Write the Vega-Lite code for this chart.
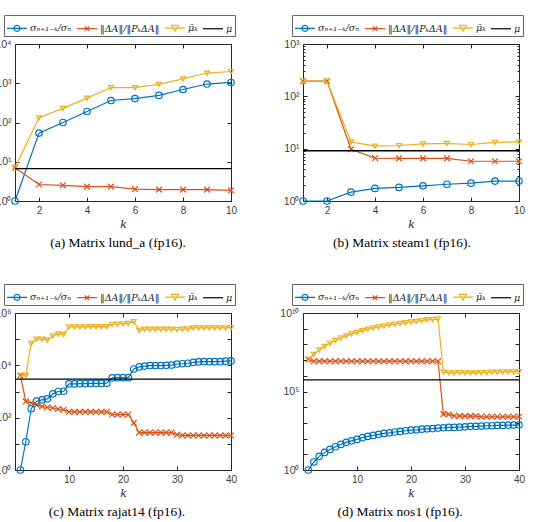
{
  "$schema": "https://vega.github.io/schema/vega-lite/v6.json",
  "autosize": {"type": "pad"},
  "padding": {"left": -6, "top": 14, "right": 0, "bottom": 0},
  "background": "white",
  "bounds": "flush",
  "columns": 2,
  "spacing": {"row": 112, "column": 72},
  "resolve": {"scale": {"color": "independent"}, "legend": {"color": "independent"}},
  "config": {
    "view": {"stroke": "#262626", "strokeWidth": 1},
    "axis": {
      "domain": false, "grid": false, "tickColor": "#262626", "tickSize": -4, "tickWidth": 1,
      "labelFont": "Liberation Sans", "labelFontSize": 10, "labelColor": "#404040", "labelPadding": 8,
      "labelFlush": false, "labelOverlap": false,
      "titleFont": "DejaVu Serif", "titleFontStyle": "italic", "titleFontWeight": "normal",
      "titleFontSize": 11, "titleColor": "#262626", "titlePadding": 3
    },
    "axisLeft": {"labelFontSize": 10.5},
    "legend": {
      "labelFont": "DejaVu Serif", "labelFontStyle": "italic", "labelFontSize": 9.5, "labelColor": "#262626",
      "symbolSize": 400, "symbolStrokeWidth": 1.2, "labelOffset": 2, "columnPadding": 2, "padding": 2,
      "strokeColor": "#666666", "fillColor": "#ffffff", "labelLimit": 200
    },
    "title": {"font": "Liberation Serif", "fontSize": 13.5, "fontWeight": "normal", "color": "#000000", "offset": 7}
  },
  "datasets": {
    "a": [
      {"k":1,"s":"s","v":1},{"k":2,"s":"s","v":53.7},{"k":3,"s":"s","v":100},{"k":4,"s":"s","v":190.5},{"k":5,"s":"s","v":363},
      {"k":6,"s":"s","v":407},{"k":7,"s":"s","v":490},{"k":8,"s":"s","v":692},{"k":9,"s":"s","v":955},{"k":10,"s":"s","v":1047},
      {"k":1,"s":"d","v":7.08},{"k":2,"s":"d","v":2.63},{"k":3,"s":"d","v":2.51},{"k":4,"s":"d","v":2.32},{"k":5,"s":"d","v":2.32},
      {"k":6,"s":"d","v":2.0},{"k":7,"s":"d","v":1.95},{"k":8,"s":"d","v":1.95},{"k":9,"s":"d","v":1.95},{"k":10,"s":"d","v":1.86},
      {"k":1,"s":"m","v":7.08},{"k":2,"s":"m","v":131.8},{"k":3,"s":"m","v":229},{"k":4,"s":"m","v":417},{"k":5,"s":"m","v":776},
      {"k":6,"s":"m","v":776},{"k":7,"s":"m","v":933},{"k":8,"s":"m","v":1288},{"k":9,"s":"m","v":1820},{"k":10,"s":"m","v":1995},
      {"s":"mu","v":6.67}
    ],
    "b": [
      {"k":1,"s":"s","v":1},{"k":2,"s":"s","v":1},{"k":3,"s":"s","v":1.48},{"k":4,"s":"s","v":1.74},{"k":5,"s":"s","v":1.82},
      {"k":6,"s":"s","v":1.95},{"k":7,"s":"s","v":2.09},{"k":8,"s":"s","v":2.19},{"k":9,"s":"s","v":2.4},{"k":10,"s":"s","v":2.4},
      {"k":1,"s":"d","v":195},{"k":2,"s":"d","v":195},{"k":3,"s":"d","v":9.77},{"k":4,"s":"d","v":6.61},{"k":5,"s":"d","v":6.53},
      {"k":6,"s":"d","v":6.53},{"k":7,"s":"d","v":6.53},{"k":8,"s":"d","v":5.75},{"k":9,"s":"d","v":5.75},{"k":10,"s":"d","v":5.75},
      {"k":1,"s":"m","v":195},{"k":2,"s":"m","v":195},{"k":3,"s":"m","v":13.5},{"k":4,"s":"m","v":11.2},{"k":5,"s":"m","v":11.5},
      {"k":6,"s":"m","v":12.3},{"k":7,"s":"m","v":12.6},{"k":8,"s":"m","v":12.0},{"k":9,"s":"m","v":13.2},{"k":10,"s":"m","v":13.5},
      {"s":"mu","v":9.12}
    ],
    "c": [
      {"k":1,"s":"s","v":1},{"k":2,"s":"s","v":12.0},{"k":3,"s":"s","v":219},{"k":4,"s":"s","v":427},{"k":5,"s":"s","v":479},
      {"k":6,"s":"s","v":525},{"k":7,"s":"s","v":813},{"k":8,"s":"s","v":1000},{"k":9,"s":"s","v":1023},{"k":10,"s":"s","v":1950},
      {"k":11,"s":"s","v":1950},{"k":12,"s":"s","v":1995},{"k":13,"s":"s","v":1995},{"k":14,"s":"s","v":2042},{"k":15,"s":"s","v":2042},
      {"k":16,"s":"s","v":2042},{"k":17,"s":"s","v":2089},{"k":18,"s":"s","v":3311},{"k":19,"s":"s","v":3388},{"k":20,"s":"s","v":3388},
      {"k":21,"s":"s","v":3388},{"k":22,"s":"s","v":7244},{"k":23,"s":"s","v":8710},{"k":24,"s":"s","v":9333},{"k":25,"s":"s","v":9772},
      {"k":26,"s":"s","v":9772},{"k":27,"s":"s","v":9772},{"k":28,"s":"s","v":10000},{"k":29,"s":"s","v":10233},{"k":30,"s":"s","v":11220},
      {"k":31,"s":"s","v":11482},{"k":32,"s":"s","v":12023},{"k":33,"s":"s","v":12882},{"k":34,"s":"s","v":13490},{"k":35,"s":"s","v":13804},
      {"k":36,"s":"s","v":13804},{"k":37,"s":"s","v":13804},{"k":38,"s":"s","v":13804},{"k":39,"s":"s","v":14454},{"k":40,"s":"s","v":14791},
      {"k":1,"s":"d","v":4169},{"k":2,"s":"d","v":417},{"k":3,"s":"d","v":363},{"k":4,"s":"d","v":309},{"k":5,"s":"d","v":269},
      {"k":6,"s":"d","v":245},{"k":7,"s":"d","v":234},{"k":8,"s":"d","v":214},{"k":9,"s":"d","v":200},{"k":10,"s":"d","v":166},
      {"k":11,"s":"d","v":166},{"k":12,"s":"d","v":166},{"k":13,"s":"d","v":166},{"k":14,"s":"d","v":166},{"k":15,"s":"d","v":166},
      {"k":16,"s":"d","v":166},{"k":17,"s":"d","v":166},{"k":18,"s":"d","v":132},{"k":19,"s":"d","v":132},{"k":20,"s":"d","v":132},
      {"k":21,"s":"d","v":132},{"k":22,"s":"d","v":63.1},{"k":23,"s":"d","v":26.9},{"k":24,"s":"d","v":26.9},{"k":25,"s":"d","v":26.9},
      {"k":26,"s":"d","v":26.9},{"k":27,"s":"d","v":26.9},{"k":28,"s":"d","v":26.9},{"k":29,"s":"d","v":26.9},{"k":30,"s":"d","v":22.4},
      {"k":31,"s":"d","v":20.9},{"k":32,"s":"d","v":20.9},{"k":33,"s":"d","v":20.9},{"k":34,"s":"d","v":20.9},{"k":35,"s":"d","v":20.9},
      {"k":36,"s":"d","v":20.9},{"k":37,"s":"d","v":20.9},{"k":38,"s":"d","v":20.9},{"k":39,"s":"d","v":20.9},{"k":40,"s":"d","v":20.9},
      {"k":1,"s":"m","v":4169},{"k":2,"s":"m","v":4169},{"k":3,"s":"m","v":69183},{"k":4,"s":"m","v":100000},{"k":5,"s":"m","v":100000},
      {"k":6,"s":"m","v":93325},{"k":7,"s":"m","v":134896},{"k":8,"s":"m","v":158489},{"k":9,"s":"m","v":151356},{"k":10,"s":"m","v":295121},
      {"k":11,"s":"m","v":295121},{"k":12,"s":"m","v":295121},{"k":13,"s":"m","v":295121},{"k":14,"s":"m","v":301995},{"k":15,"s":"m","v":301995},
      {"k":16,"s":"m","v":301995},{"k":17,"s":"m","v":301995},{"k":18,"s":"m","v":371535},{"k":19,"s":"m","v":380189},{"k":20,"s":"m","v":389045},
      {"k":21,"s":"m","v":398107},{"k":22,"s":"m","v":467735},{"k":23,"s":"m","v":218776},{"k":24,"s":"m","v":239883},{"k":25,"s":"m","v":239883},
      {"k":26,"s":"m","v":239883},{"k":27,"s":"m","v":239883},{"k":28,"s":"m","v":239883},{"k":29,"s":"m","v":239883},{"k":30,"s":"m","v":234423},
      {"k":31,"s":"m","v":239883},{"k":32,"s":"m","v":245471},{"k":33,"s":"m","v":269153},{"k":34,"s":"m","v":269153},{"k":35,"s":"m","v":269153},
      {"k":36,"s":"m","v":269153},{"k":37,"s":"m","v":269153},{"k":38,"s":"m","v":269153},{"k":39,"s":"m","v":269153},{"k":40,"s":"m","v":275423},
      {"s":"mu","v":2951}
    ],
    "d": [
      {"k":1,"s":"s","v":1},{"k":2,"s":"s","v":3.24},{"k":3,"s":"s","v":7.41},{"k":4,"s":"s","v":13.2},{"k":5,"s":"s","v":20.4},
      {"k":6,"s":"s","v":30.2},{"k":7,"s":"s","v":42.7},{"k":8,"s":"s","v":57.5},{"k":9,"s":"s","v":72.4},{"k":10,"s":"s","v":89.1},
      {"k":11,"s":"s","v":114.8},{"k":12,"s":"s","v":138.0},{"k":13,"s":"s","v":158.5},{"k":14,"s":"s","v":186.2},{"k":15,"s":"s","v":213.8},
      {"k":16,"s":"s","v":234.4},{"k":17,"s":"s","v":263.0},{"k":18,"s":"s","v":288.4},{"k":19,"s":"s","v":316.2},{"k":20,"s":"s","v":346.7},
      {"k":21,"s":"s","v":363.1},{"k":22,"s":"s","v":398.1},{"k":23,"s":"s","v":416.9},{"k":24,"s":"s","v":436.5},{"k":25,"s":"s","v":467.7},
      {"k":26,"s":"s","v":489.8},{"k":27,"s":"s","v":512.9},{"k":28,"s":"s","v":512.9},{"k":29,"s":"s","v":537.0},{"k":30,"s":"s","v":562.3},
      {"k":31,"s":"s","v":602.6},{"k":32,"s":"s","v":602.6},{"k":33,"s":"s","v":631.0},{"k":34,"s":"s","v":660.7},{"k":35,"s":"s","v":660.7},
      {"k":36,"s":"s","v":691.8},{"k":37,"s":"s","v":691.8},{"k":38,"s":"s","v":724.4},{"k":39,"s":"s","v":724.4},{"k":40,"s":"s","v":758.6},
      {"k":1,"s":"d","v":1.122e7},{"k":2,"s":"d","v":8.511e6},{"k":3,"s":"d","v":8.511e6},{"k":4,"s":"d","v":8.511e6},{"k":5,"s":"d","v":8.511e6},
      {"k":6,"s":"d","v":8.511e6},{"k":7,"s":"d","v":8.511e6},{"k":8,"s":"d","v":8.511e6},{"k":9,"s":"d","v":8.511e6},{"k":10,"s":"d","v":8.511e6},
      {"k":11,"s":"d","v":8.511e6},{"k":12,"s":"d","v":8.511e6},{"k":13,"s":"d","v":8.511e6},{"k":14,"s":"d","v":8.511e6},{"k":15,"s":"d","v":8.511e6},
      {"k":16,"s":"d","v":8.511e6},{"k":17,"s":"d","v":8.511e6},{"k":18,"s":"d","v":8.511e6},{"k":19,"s":"d","v":8.511e6},{"k":20,"s":"d","v":8.511e6},
      {"k":21,"s":"d","v":8.511e6},{"k":22,"s":"d","v":8.511e6},{"k":23,"s":"d","v":8.511e6},{"k":24,"s":"d","v":8.511e6},{"k":25,"s":"d","v":8.511e6},
      {"k":26,"s":"d","v":3631},{"k":27,"s":"d","v":3467},{"k":28,"s":"d","v":2818},{"k":29,"s":"d","v":2692},{"k":30,"s":"d","v":2692},
      {"k":31,"s":"d","v":2692},{"k":32,"s":"d","v":2692},{"k":33,"s":"d","v":2455},{"k":34,"s":"d","v":2455},{"k":35,"s":"d","v":2455},
      {"k":36,"s":"d","v":2455},{"k":37,"s":"d","v":2455},{"k":38,"s":"d","v":2455},{"k":39,"s":"d","v":2455},{"k":40,"s":"d","v":2455},
      {"k":1,"s":"m","v":1.122e7},{"k":2,"s":"m","v":2.344e7},{"k":3,"s":"m","v":4.467e7},{"k":4,"s":"m","v":7.586e7},{"k":5,"s":"m","v":1.23e8},
      {"k":6,"s":"m","v":1.82e8},{"k":7,"s":"m","v":2.57e8},{"k":8,"s":"m","v":3.467e8},{"k":9,"s":"m","v":4.677e8},{"k":10,"s":"m","v":5.888e8},
      {"k":11,"s":"m","v":7.586e8},{"k":12,"s":"m","v":9.333e8},{"k":13,"s":"m","v":1.122e9},{"k":14,"s":"m","v":1.288e9},{"k":15,"s":"m","v":1.479e9},
      {"k":16,"s":"m","v":1.738e9},{"k":17,"s":"m","v":1.995e9},{"k":18,"s":"m","v":2.188e9},{"k":19,"s":"m","v":2.455e9},{"k":20,"s":"m","v":2.692e9},
      {"k":21,"s":"m","v":2.951e9},{"k":22,"s":"m","v":3.236e9},{"k":23,"s":"m","v":3.631e9},{"k":24,"s":"m","v":3.802e9},{"k":25,"s":"m","v":4.169e9},
      {"k":26,"s":"m","v":1.698e6},{"k":27,"s":"m","v":1.549e6},{"k":28,"s":"m","v":1.514e6},{"k":29,"s":"m","v":1.622e6},{"k":30,"s":"m","v":1.549e6},
      {"k":31,"s":"m","v":1.549e6},{"k":32,"s":"m","v":1.549e6},{"k":33,"s":"m","v":1.622e6},{"k":34,"s":"m","v":1.622e6},{"k":35,"s":"m","v":1.698e6},
      {"k":36,"s":"m","v":1.698e6},{"k":37,"s":"m","v":1.778e6},{"k":38,"s":"m","v":1.778e6},{"k":39,"s":"m","v":1.778e6},{"k":40,"s":"m","v":1.862e6},
      {"s":"mu","v":5.495e5}
    ]
  },
  "concat": [
    {
      "width": 216, "height": 157,
      "data": {"name": "a"},
      "title": {"text": "(a) Matrix lund_a (fp16).", "orient": "bottom", "dx": -5},
      "layer": [
        {
          "transform": [{"filter": "datum.s !== 'mu'"}],
          "mark": {"type": "line", "strokeWidth": 1.2},
          "encoding": {
            "x": {"field": "k", "type": "quantitative", "scale": {"domain": [1, 10]}, "axis": {"values": [2, 4, 6, 8, 10], "title": "k"}},
            "y": {"field": "v", "type": "quantitative", "scale": {"type": "log", "domain": [1, 10000]},
                  "axis": {"values": [1, 10, 100, 1000, 10000], "title": null, "labelExpr": "'10' + ['⁰','¹','²','³','⁴'][round(log(datum.value) / LN10)]"}},
            "color": {"field": "s", "type": "nominal",
              "scale": {"domain": ["s", "d", "m", "mu"], "range": ["#0072BD", "#D95319", "#EDB120", "#000000"]},
              "legend": {"orient": "none", "legendX": -11, "legendY": -29, "direction": "horizontal", "title": null,
                "labelExpr": "datum.value === 's' ? 'σₙ₊₁₋ₖ/σₙ' : datum.value === 'd' ? '‖ΔA‖/‖PₖΔA‖' : datum.value === 'm' ? 'μ̄ₖ' : 'μ'",
                "encode": {"symbols": {"update": {
                  "shape": {"signal": "datum.value === 's' ? 'M-1,0L1,0M-0.3,0A0.3,0.3,0,1,0,0.3,0A0.3,0.3,0,1,0,-0.3,0' : datum.value === 'd' ? 'M-1,0L1,0M-0.22,-0.22L0.22,0.22M-0.22,0.22L0.22,-0.22' : datum.value === 'm' ? 'M-1,0L1,0M-0.35,-0.28L0.35,-0.28L0,0.32Z' : 'M-1,0L1,0'"},
                  "fill": {"value": "transparent"}, "opacity": {"value": 1}}}}}}
          }
        },
        {
          "transform": [{"filter": "datum.s !== 'mu'"}],
          "mark": {"type": "point", "filled": false, "strokeWidth": 1.2, "opacity": 1},
          "encoding": {
            "x": {"field": "k", "type": "quantitative", "axis": {"orient": "top", "values": [2, 4, 6, 8, 10], "labels": false, "title": null}},
            "y": {"field": "v", "type": "quantitative", "axis": {"orient": "right", "values": [1, 10, 100, 1000, 10000], "labels": false, "title": null}},
            "color": {"field": "s", "type": "nominal"},
            "shape": {"field": "s", "type": "nominal", "scale": {"domain": ["s", "d", "m"], "range": ["circle", "M-1,-1L1,1M-1,1L1,-1", "M-1,-0.8L1,-0.8L0,0.9Z"]}, "legend": null},
            "size": {"field": "s", "type": "ordinal", "scale": {"domain": ["s", "d", "m"], "range": [42, 25, 49]}, "legend": null}
          }
        },
        {
          "transform": [{"filter": "datum.s === 'mu'"}],
          "mark": {"type": "rule", "strokeWidth": 1.3},
          "encoding": {"y": {"field": "v", "type": "quantitative", "axis": null}, "color": {"field": "s", "type": "nominal"}}
        }
      ],
      "resolve": {"axis": {"x": "independent", "y": "independent"}}
    },
    {
      "width": 216, "height": 157,
      "data": {"name": "b"},
      "title": {"text": "(b) Matrix steam1 (fp16).", "orient": "bottom", "dx": -9},
      "layer": [
        {
          "transform": [{"filter": "datum.s !== 'mu'"}],
          "mark": {"type": "line", "strokeWidth": 1.2},
          "encoding": {
            "x": {"field": "k", "type": "quantitative", "scale": {"domain": [1, 10]}, "axis": {"values": [2, 4, 6, 8, 10], "title": "k"}},
            "y": {"field": "v", "type": "quantitative", "scale": {"type": "log", "domain": [1, 1000]},
                  "axis": {"values": [1, 2, 3, 4, 5, 6, 7, 8, 9, 10, 20, 30, 40, 50, 60, 70, 80, 90, 100, 200, 300, 400, 500, 600, 700, 800, 900, 1000], "title": null,
                           "tickSize": {"condition": {"test": "abs(log(datum.value) / LN10 - round(log(datum.value) / LN10)) < 0.001", "value": -4}, "value": -2},
                           "labelExpr": "abs(log(datum.value) / LN10 - round(log(datum.value) / LN10)) < 0.001 ? '10' + ['⁰','¹','²','³'][round(log(datum.value) / LN10)] : ''"}},
            "color": {"field": "s", "type": "nominal",
              "scale": {"domain": ["s", "d", "m", "mu"], "range": ["#0072BD", "#D95319", "#EDB120", "#000000"]},
              "legend": {"orient": "none", "legendX": -11, "legendY": -29, "direction": "horizontal", "title": null,
                "labelExpr": "datum.value === 's' ? 'σₙ₊₁₋ₖ/σₙ' : datum.value === 'd' ? '‖ΔA‖/‖PₖΔA‖' : datum.value === 'm' ? 'μ̄ₖ' : 'μ'",
                "encode": {"symbols": {"update": {
                  "shape": {"signal": "datum.value === 's' ? 'M-1,0L1,0M-0.3,0A0.3,0.3,0,1,0,0.3,0A0.3,0.3,0,1,0,-0.3,0' : datum.value === 'd' ? 'M-1,0L1,0M-0.22,-0.22L0.22,0.22M-0.22,0.22L0.22,-0.22' : datum.value === 'm' ? 'M-1,0L1,0M-0.35,-0.28L0.35,-0.28L0,0.32Z' : 'M-1,0L1,0'"},
                  "fill": {"value": "transparent"}, "opacity": {"value": 1}}}}}}
          }
        },
        {
          "transform": [{"filter": "datum.s !== 'mu'"}],
          "mark": {"type": "point", "filled": false, "strokeWidth": 1.2, "opacity": 1},
          "encoding": {
            "x": {"field": "k", "type": "quantitative", "axis": {"orient": "top", "values": [2, 4, 6, 8, 10], "labels": false, "title": null}},
            "y": {"field": "v", "type": "quantitative",
                  "axis": {"orient": "right", "values": [1, 2, 3, 4, 5, 6, 7, 8, 9, 10, 20, 30, 40, 50, 60, 70, 80, 90, 100, 200, 300, 400, 500, 600, 700, 800, 900, 1000], "labels": false, "title": null,
                           "tickSize": {"condition": {"test": "abs(log(datum.value) / LN10 - round(log(datum.value) / LN10)) < 0.001", "value": -4}, "value": -2}}},
            "color": {"field": "s", "type": "nominal"},
            "shape": {"field": "s", "type": "nominal", "scale": {"domain": ["s", "d", "m"], "range": ["circle", "M-1,-1L1,1M-1,1L1,-1", "M-1,-0.8L1,-0.8L0,0.9Z"]}, "legend": null},
            "size": {"field": "s", "type": "ordinal", "scale": {"domain": ["s", "d", "m"], "range": [42, 25, 49]}, "legend": null}
          }
        },
        {
          "transform": [{"filter": "datum.s === 'mu'"}],
          "mark": {"type": "rule", "strokeWidth": 1.3},
          "encoding": {"y": {"field": "v", "type": "quantitative", "axis": null}, "color": {"field": "s", "type": "nominal"}}
        }
      ],
      "resolve": {"axis": {"x": "independent", "y": "independent"}}
    },
    {
      "width": 216, "height": 157,
      "data": {"name": "c"},
      "title": {"text": "(c) Matrix rajat14 (fp16).", "orient": "bottom", "dx": -6},
      "layer": [
        {
          "transform": [{"filter": "datum.s !== 'mu'"}],
          "mark": {"type": "line", "strokeWidth": 1.2},
          "encoding": {
            "x": {"field": "k", "type": "quantitative", "scale": {"domain": [1, 40]}, "axis": {"values": [10, 20, 30, 40], "title": "k"}},
            "y": {"field": "v", "type": "quantitative", "scale": {"type": "log", "domain": [1, 1000000]},
                  "axis": {"values": [1, 10, 100, 1000, 10000, 100000, 1000000], "title": null, "labelExpr": "['10⁰','','10²','','10⁴','','10⁶'][round(log(datum.value) / LN10)]"}},
            "color": {"field": "s", "type": "nominal",
              "scale": {"domain": ["s", "d", "m", "mu"], "range": ["#0072BD", "#D95319", "#EDB120", "#000000"]},
              "legend": {"orient": "none", "legendX": -11, "legendY": -29, "direction": "horizontal", "title": null,
                "labelExpr": "datum.value === 's' ? 'σₙ₊₁₋ₖ/σₙ' : datum.value === 'd' ? '‖ΔA‖/‖PₖΔA‖' : datum.value === 'm' ? 'μ̄ₖ' : 'μ'",
                "encode": {"symbols": {"update": {
                  "shape": {"signal": "datum.value === 's' ? 'M-1,0L1,0M-0.3,0A0.3,0.3,0,1,0,0.3,0A0.3,0.3,0,1,0,-0.3,0' : datum.value === 'd' ? 'M-1,0L1,0M-0.22,-0.22L0.22,0.22M-0.22,0.22L0.22,-0.22' : datum.value === 'm' ? 'M-1,0L1,0M-0.35,-0.28L0.35,-0.28L0,0.32Z' : 'M-1,0L1,0'"},
                  "fill": {"value": "transparent"}, "opacity": {"value": 1}}}}}}
          }
        },
        {
          "transform": [{"filter": "datum.s !== 'mu'"}],
          "mark": {"type": "point", "filled": false, "strokeWidth": 1.2, "opacity": 1},
          "encoding": {
            "x": {"field": "k", "type": "quantitative", "axis": {"orient": "top", "values": [10, 20, 30, 40], "labels": false, "title": null}},
            "y": {"field": "v", "type": "quantitative", "axis": {"orient": "right", "values": [1, 10, 100, 1000, 10000, 100000, 1000000], "labels": false, "title": null}},
            "color": {"field": "s", "type": "nominal"},
            "shape": {"field": "s", "type": "nominal", "scale": {"domain": ["s", "d", "m"], "range": ["circle", "M-1,-1L1,1M-1,1L1,-1", "M-1,-0.8L1,-0.8L0,0.9Z"]}, "legend": null},
            "size": {"field": "s", "type": "ordinal", "scale": {"domain": ["s", "d", "m"], "range": [36, 22, 45]}, "legend": null}
          }
        },
        {
          "transform": [{"filter": "datum.s === 'mu'"}],
          "mark": {"type": "rule", "strokeWidth": 1.3},
          "encoding": {"y": {"field": "v", "type": "quantitative", "axis": null}, "color": {"field": "s", "type": "nominal"}}
        }
      ],
      "resolve": {"axis": {"x": "independent", "y": "independent"}}
    },
    {
      "width": 216, "height": 157,
      "data": {"name": "d"},
      "title": {"text": "(d) Matrix nos1 (fp16).", "orient": "bottom", "dx": -11},
      "layer": [
        {
          "transform": [{"filter": "datum.s !== 'mu'"}],
          "mark": {"type": "line", "strokeWidth": 1.2},
          "encoding": {
            "x": {"field": "k", "type": "quantitative", "scale": {"domain": [1, 40]}, "axis": {"values": [10, 20, 30, 40], "title": "k"}},
            "y": {"field": "v", "type": "quantitative", "scale": {"type": "log", "domain": [1, 1e10]},
                  "axis": {"values": [1, 10, 100, 1000, 10000, 100000, 1e6, 1e7, 1e8, 1e9, 1e10], "title": null, "labelExpr": "['10⁰','','','','','10⁵','','','','','10¹⁰'][round(log(datum.value) / LN10)]"}},
            "color": {"field": "s", "type": "nominal",
              "scale": {"domain": ["s", "d", "m", "mu"], "range": ["#0072BD", "#D95319", "#EDB120", "#000000"]},
              "legend": {"orient": "none", "legendX": -11, "legendY": -29, "direction": "horizontal", "title": null,
                "labelExpr": "datum.value === 's' ? 'σₙ₊₁₋ₖ/σₙ' : datum.value === 'd' ? '‖ΔA‖/‖PₖΔA‖' : datum.value === 'm' ? 'μ̄ₖ' : 'μ'",
                "encode": {"symbols": {"update": {
                  "shape": {"signal": "datum.value === 's' ? 'M-1,0L1,0M-0.3,0A0.3,0.3,0,1,0,0.3,0A0.3,0.3,0,1,0,-0.3,0' : datum.value === 'd' ? 'M-1,0L1,0M-0.22,-0.22L0.22,0.22M-0.22,0.22L0.22,-0.22' : datum.value === 'm' ? 'M-1,0L1,0M-0.35,-0.28L0.35,-0.28L0,0.32Z' : 'M-1,0L1,0'"},
                  "fill": {"value": "transparent"}, "opacity": {"value": 1}}}}}}
          }
        },
        {
          "transform": [{"filter": "datum.s !== 'mu'"}],
          "mark": {"type": "point", "filled": false, "strokeWidth": 1.2, "opacity": 1},
          "encoding": {
            "x": {"field": "k", "type": "quantitative", "axis": {"orient": "top", "values": [10, 20, 30, 40], "labels": false, "title": null}},
            "y": {"field": "v", "type": "quantitative", "axis": {"orient": "right", "values": [1, 10, 100, 1000, 10000, 100000, 1e6, 1e7, 1e8, 1e9, 1e10], "labels": false, "title": null}},
            "color": {"field": "s", "type": "nominal"},
            "shape": {"field": "s", "type": "nominal", "scale": {"domain": ["s", "d", "m"], "range": ["circle", "M-1,-1L1,1M-1,1L1,-1", "M-1,-0.8L1,-0.8L0,0.9Z"]}, "legend": null},
            "size": {"field": "s", "type": "ordinal", "scale": {"domain": ["s", "d", "m"], "range": [36, 22, 45]}, "legend": null}
          }
        },
        {
          "transform": [{"filter": "datum.s === 'mu'"}],
          "mark": {"type": "rule", "strokeWidth": 1.3},
          "encoding": {"y": {"field": "v", "type": "quantitative", "axis": null}, "color": {"field": "s", "type": "nominal"}}
        }
      ],
      "resolve": {"axis": {"x": "independent", "y": "independent"}}
    }
  ]
}
